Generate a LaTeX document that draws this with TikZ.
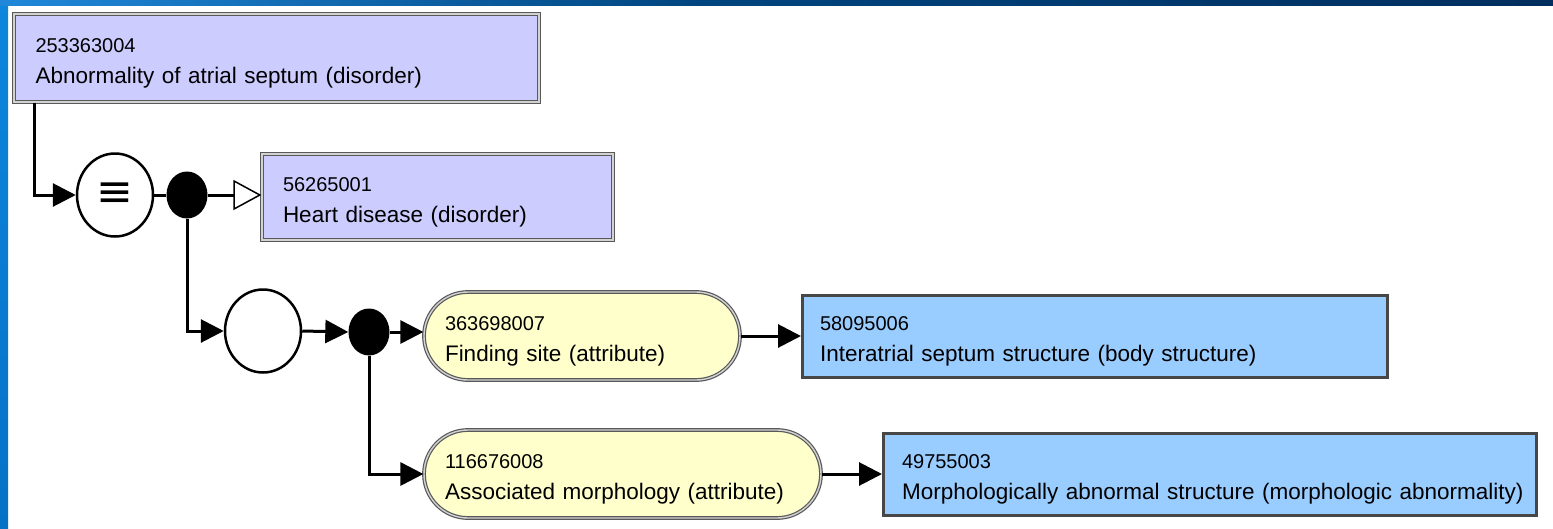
\documentclass[tikz,border=0pt]{standalone}
\usepackage{fontspec}
\setmainfont{Liberation Sans}
\newfontfamily\symfont{DejaVu Sans}
\usetikzlibrary{arrows.meta,shapes.geometric}
\definecolor{lav}{HTML}{CCCCFF}
\definecolor{lyel}{HTML}{FFFFCC}
\definecolor{lblue}{HTML}{99CCFF}
\definecolor{sideT}{HTML}{0D86DC}
\definecolor{sideB}{HTML}{0672C6}
\definecolor{topL}{HTML}{2088DA}
\definecolor{topM}{HTML}{00457F}
\definecolor{topR}{HTML}{002E5E}
\newcommand{\lab}[2]{{\fontsize{20}{31}\selectfont #1}\\\mbox{#2}}
\begin{document}
\begin{tikzpicture}[x=1pt,y=-1pt,
 every node/.style={font=\fontsize{22.5}{31}\selectfont},
 concept/.style={rectangle, draw=gray!70!black, double=gray!35, double distance=1.4pt, line width=1.2pt, fill=lav, align=left, inner xsep=21pt, text height=24pt},
 attrbox/.style={concept, fill=lyel, rounded corners=44pt},
 valbox/.style={rectangle, draw=black!72, line width=3pt, fill=lblue, align=left, text height=24pt},
 opcirc/.style={ellipse, draw, line width=2.5pt, minimum width=76pt, minimum height=83pt, inner sep=0pt, fill=white},
 dotn/.style={ellipse, fill=black, minimum width=41pt, minimum height=47pt, inner sep=0pt},
 conn/.style={line width=3pt, line cap=butt},
 arr/.style={conn, -{Triangle[length=23pt,width=23pt]}},
 oarr/.style={conn, -{Triangle[open,length=28pt,width=30pt,fill=white,line width=1.5pt]}}
]
\useasboundingbox (0,0) rectangle (1553,528);
\fill[white] (0,0) rectangle (1553,528);
\shade[top color=sideT, bottom color=sideB] (0,0) rectangle (8,528);
\shade[left color=topL, right color=topM] (0,0) rectangle (700,5);
\shade[left color=topM, right color=topR] (700,0) rectangle (1553,5);

\node[concept, minimum width=525pt, minimum height=88pt, text width=482pt, inner xsep=21.5pt] (box1) at (276.5,58)
  {\lab{253363004}{Abnormality of atrial septum (disorder)}};
\node[opcirc, font=\symfont\fontsize{44}{44}\selectfont] (eq) at (115,195) {≡};
\node[dotn] (dot1) at (187,195) {};
\node[concept, minimum width=351pt, minimum height=86pt, text width=309pt] (box2) at (437.5,197)
  {\lab{56265001}{Heart disease (disorder)}};
\node[opcirc] (circ2) at (263,331) {};
\node[dotn] (dot2) at (369,332) {};
\node[attrbox, minimum width=316pt, minimum height=88pt, text width=274pt] (attr1) at (582,336)
  {\lab{363698007}{Finding site (attribute)}};
\node[valbox, minimum width=585pt, minimum height=82pt, text width=550pt, inner xsep=17.5pt] (box3) at (1095,336.5)
  {\lab{58095006}{Interatrial septum structure (body structure)}};
\node[attrbox, minimum width=397pt, minimum height=88pt, text width=355pt] (attr2) at (622.5,474)
  {\lab{116676008}{Associated morphology (attribute)}};
\node[valbox, minimum width=653pt, minimum height=82pt, text width=616pt, inner xsep=18.5pt] (box4) at (1210,474.5)
  {\lab{49755003}{Morphologically abnormal structure (morphologic abnormality)}};

\draw[arr] ([xshift=21pt]box1.south west) |- (eq.west);
\draw[conn] (eq.east) -- (dot1.west);
\draw[oarr] (dot1.east) -- (dot1.east -| box2.west);
\draw[arr] (dot1.south) |- (circ2.west);
\draw[arr] (circ2.east) -- (dot2.west);
\draw[arr] (dot2.east) -- (dot2.east -| attr1.west);
\draw[arr] (attr1.east) -- (attr1.east -| box3.west);
\draw[arr] (dot2.south) |- (attr2.west);
\draw[arr] (attr2.east) -- (attr2.east -| box4.west);
\end{tikzpicture}
\end{document}
